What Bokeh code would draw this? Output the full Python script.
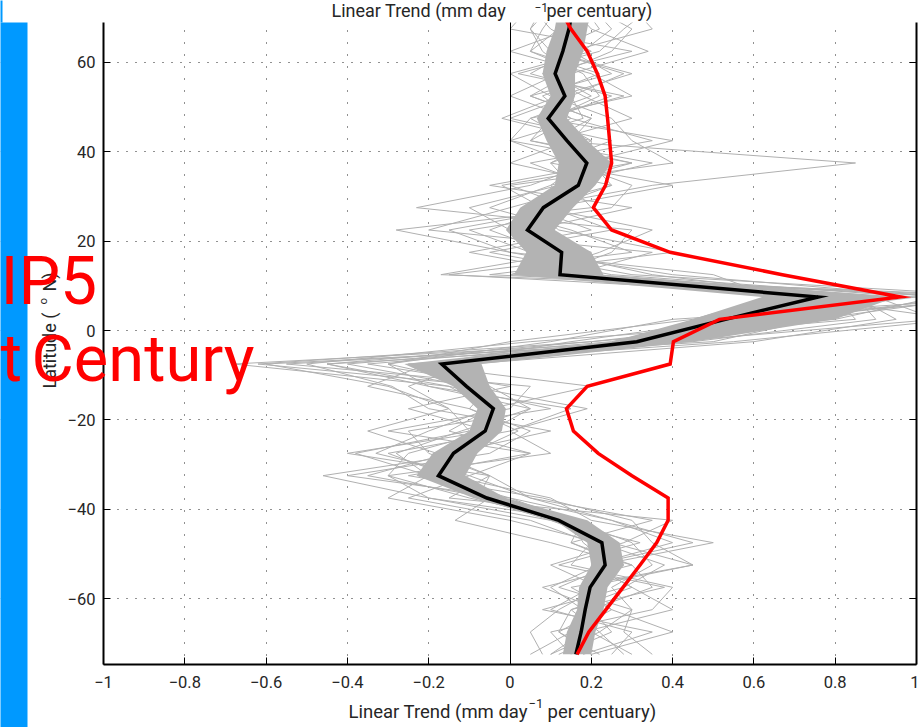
from math import pi
from bokeh.plotting import figure
from bokeh.models import Range1d, FixedTicker, LinearAxis, Label, BoxAnnotation
from bokeh.embed import file_html
from bokeh.resources import INLINE

# ---------------- data ----------------
lat = [-72.5, -67.5, -62.5, -57.5, -52.5, -47.5, -42.5, -37.5, -32.5, -27.5,
       -22.5, -17.5, -12.5, -7.5, -2.5, 2.5, 7.5, 12.5, 17.5, 22.5,
       27.5, 32.5, 37.5, 42.5, 47.5, 52.5, 57.5, 62.5, 67.5, 72.5]

obs_trend = [0.165, 0.194, 0.236, 0.278, 0.32, 0.361, 0.389, 0.389, 0.30, 0.217,
             0.156, 0.139, 0.19, 0.394, 0.402, 0.515, 0.96, 0.67, 0.394, 0.25,
             0.205, 0.235, 0.25, 0.245, 0.24, 0.234, 0.215, 0.19, 0.15, 0.12]

mmm_trend = [0.162, 0.175, 0.185, 0.197, 0.234, 0.226, 0.12, -0.057, -0.176, -0.139,
             -0.061, -0.041, -0.107, -0.168, 0.312, 0.53, 0.758, 0.123, 0.127, 0.043,
             0.082, 0.168, 0.189, 0.14, 0.094, 0.135, 0.111, 0.13, 0.145, 0.155]

band_lo = [0.13, 0.14, 0.165, 0.17, 0.20, 0.19, 0.11, -0.09, -0.23, -0.19,
           -0.10, -0.08, -0.14, -0.26, 0.25, 0.45, 0.62, 0.01, 0.04, -0.01,
           0.025, 0.11, 0.12, 0.09, 0.066, 0.10, 0.08, 0.09, 0.11, 0.12]
band_hi = [0.20, 0.21, 0.23, 0.24, 0.28, 0.27, 0.19, -0.01, -0.11, -0.08,
           -0.02, -0.01, -0.05, -0.07, 0.45, 0.80, 0.95, 0.23, 0.20, 0.11,
           0.155, 0.21, 0.25, 0.19, 0.14, 0.16, 0.16, 0.18, 0.19, 0.20]

model_a = [0.10, 0.22, 0.30, 0.25, 0.35, 0.30, 0.15, -0.10, -0.30, -0.25,
           -0.05, 0.05, -0.20, -0.45, 0.20, 0.70, 1.10, 0.05, 0.10, -0.05,
           0.10, 0.25, 0.20, 0.15, 0.05, 0.20, 0.10, 0.18, 0.25, 0.20]
model_b = [0.20, 0.12, 0.15, 0.30, 0.20, 0.40, 0.25, 0.00, -0.20, -0.38,
           -0.10, -0.15, -0.30, -0.60, 0.45, 0.90, 0.85, -0.15, 0.30, 0.15,
           -0.05, 0.10, 0.30, 0.05, 0.15, 0.08, 0.22, 0.05, 0.12, 0.10]
model_c = [0.05, 0.15, 0.25, 0.15, 0.45, 0.25, 0.10, -0.20, -0.46, -0.10,
           0.02, -0.10, -0.05, -0.30, 0.10, 0.40, 1.25, 0.30, 0.00, -0.28,
           0.20, 0.15, 0.10, 0.25, 0.00, 0.15, 0.28, 0.10, 0.05, 0.08]
model_d = [0.25, 0.30, 0.10, 0.20, 0.28, 0.15, 0.35, 0.05, -0.05, -0.20,
           -0.25, 0.10, -0.15, -0.68, 0.35, 0.60, 0.95, 0.20, -0.10, 0.20,
           0.05, 0.35, 0.85, 0.10, 0.20, 0.05, 0.15, 0.34, 0.20, 0.15]
model_e = [0.15, 0.10, 0.35, 0.40, 0.15, 0.20, 0.05, -0.25, -0.10, 0.05,
           -0.15, -0.05, 0.20, -0.25, 0.55, 1.10, 0.70, 0.10, 0.25, 0.30,
           -0.23, 0.05, 0.20, 0.20, 0.10, 0.25, 0.05, 0.15, 0.35, 0.30]
model_f = [0.30, 0.20, 0.18, 0.10, 0.22, 0.50, 0.20, 0.10, -0.15, -0.30,
           0.00, 0.19, -0.10, -0.40, 0.25, 0.50, 1.30, -0.17, 0.15, 0.10,
           0.15, 0.00, 0.40, 0.30, 0.25, 0.10, 0.00, 0.20, 0.10, 0.05]
model_g = [0.12, 0.25, 0.20, 0.35, 0.30, 0.10, -0.135, -0.05, -0.35, -0.15,
           0.10, -0.20, -0.29, -0.50, 0.05, 0.80, 1.05, 0.40, 0.05, -0.10,
           0.25, 0.30, 0.15, 0.00, 0.05, 0.30, 0.20, 0.00, 0.15, 0.25]
model_h = [0.20, 0.40, 0.25, 0.18, 0.45, 0.35, 0.30, 0.08, -0.25, 0.05,
           -0.30, 0.00, 0.05, -0.55, 0.40, 1.05, 0.90, 0.15, 0.35, -0.20,
           0.00, 0.20, 0.05, 0.35, 0.15, 0.00, 0.12, 0.25, 0.30, 0.20]
model_i = [0.08, 0.05, 0.12, 0.22, 0.10, 0.28, 0.40, -0.15, -0.05, -0.40,
           -0.05, -0.25, 0.00, -0.35, 0.30, 0.65, 1.20, 0.00, 0.20, 0.05,
           0.30, -0.05, 0.25, 0.10, 0.30, 0.18, 0.08, 0.30, 0.00, 0.05]
model_j = [0.35, 0.28, 0.30, 0.12, 0.25, 0.18, 0.15, 0.00, -0.40, -0.05,
           0.05, -0.10, -0.35, -0.20, 0.15, 0.55, 1.00, 0.25, -0.05, 0.25,
           0.10, 0.40, 0.10, 0.20, -0.02, 0.12, 0.30, 0.10, 0.22, 0.18]
model_k = [0.18, 0.35, 0.08, 0.28, 0.38, 0.22, 0.00, -0.30, -0.20, -0.28,
           -0.12, 0.05, -0.05, -0.62, 0.20, 0.85, 0.80, 0.35, 0.10, 0.00,
           -0.10, 0.12, 0.35, 0.05, 0.10, 0.22, 0.18, 0.05, 0.08, 0.12]
model_l = [0.10, 0.18, 0.40, 0.30, 0.20, 0.45, 0.25, 0.05, -0.10, -0.33,
           -0.20, -0.05, -0.15, -0.45, 0.50, 0.75, 1.15, -0.05, 0.40, 0.12,
           0.05, 0.25, 0.00, 0.15, 0.20, 0.05, 0.25, 0.15, 0.18, 0.22]
model_m = [0.22, 0.12, 0.22, 0.08, 0.30, 0.15, 0.18, -0.20, -0.30, 0.10,
           0.00, 0.15, -0.20, -0.30, 0.00, 0.45, 0.65, 0.50, 0.00, -0.15,
           0.15, 0.10, 0.18, 0.40, 0.08, 0.28, 0.02, 0.22, 0.28, 0.35]
model_n = [0.28, 0.22, 0.15, 0.38, 0.12, 0.32, 0.10, -0.08, -0.05, -0.18,
           -0.35, -0.15, -0.25, -0.10, 0.60, 0.95, 0.85, 0.05, 0.22, 0.35,
           0.08, -0.02, 0.30, 0.00, 0.18, 0.15, 0.15, 0.08, 0.05, 0.10]
models = [model_a, model_b, model_c, model_d, model_e, model_f, model_g,
          model_h, model_i, model_j, model_k, model_l, model_m, model_n]

x_ticks = [-1, -0.8, -0.6, -0.4, -0.2, 0, 0.2, 0.4, 0.6, 0.8, 1]
x_tick_labels = ["\u22121", "\u22120.8", "\u22120.6", "\u22120.4", "\u22120.2", "0",
                 "0.2", "0.4", "0.6", "0.8", "1"]
y_ticks = [-60, -40, -20, 0, 20, 40, 60]
y_tick_labels = ["\u221260", "\u221240", "\u221220", "0", "20", "40", "60"]

x_title = "Linear Trend (mm day"
x_title_sup = "\u22121"
x_title_end = "per centuary)"
y_title = "Latitude ("
y_title_sup = "o"
y_title_end = "N)"
banner_1 = "IP5"
banner_2a = "t"
banner_2b = "Century"

# ---------------- layout (picture pixels) ----------------
W, H = 919, 727
PX_M1, PX_P1 = 103, 916          # x = -1 and x = 1
PY_EQ, PX_PER_DEG = 330, 4.4667  # latitude 0 and pixels per degree
PY_TOP, PY_BOT = 22, 664         # box top / bottom


def xd(px):
    return -1 + (px - PX_M1) * 2.0 / (PX_P1 - PX_M1)


def yd(py):
    return (PY_EQ - py) / PX_PER_DEG


Y_TOP, Y_BOT = yd(PY_TOP), yd(PY_BOT)
FONT = "Roboto"
TXT = "#262626"
BASE_FIX = 0.36   # baseline correction (fraction of font size)

p = figure(width=W, height=H, output_backend="svg", toolbar_location=None,
           x_range=Range1d(xd(0), xd(W)), y_range=Range1d(yd(H), yd(0)),
           min_border=0, min_border_left=0, min_border_right=0,
           min_border_top=0, min_border_bottom=0)
p.outline_line_color = None
p.background_fill_color = "white"
p.border_fill_color = "white"

xa, ya = p.xaxis[0], p.yaxis[0]
xa.fixed_location = Y_BOT
xa.bounds = (-1, 1)
ya.fixed_location = -1
ya.bounds = (Y_BOT, Y_TOP)
for ax, ticks, labels in ((xa, x_ticks, x_tick_labels), (ya, y_ticks, y_tick_labels)):
    ax.ticker = FixedTicker(ticks=ticks)
    ax.major_label_overrides = dict(zip(ticks, labels))
    ax.axis_line_width = 2
    ax.axis_line_color = "black"
    ax.major_tick_in = 7
    ax.major_tick_out = 0
    ax.major_tick_line_color = "black"
    ax.minor_tick_line_color = None
    ax.major_label_text_font = FONT
    ax.major_label_text_font_size = "16.5px"
    ax.major_label_text_color = TXT
xa.major_label_standoff = 11
ya.major_label_standoff = 8

right_axis = LinearAxis(ticker=FixedTicker(ticks=y_ticks), fixed_location=1,
                        bounds=(Y_BOT, Y_TOP), major_label_text_color=None,
                        major_tick_in=7, major_tick_out=0, minor_tick_line_color=None,
                        axis_line_width=2, axis_line_color="black")
p.add_layout(right_axis, "right")

zero_axis = LinearAxis(fixed_location=0, bounds=(Y_BOT, Y_TOP), major_label_text_color=None,
                       major_tick_line_color=None, minor_tick_line_color=None,
                       axis_line_width=1, axis_line_color="black")
p.add_layout(zero_axis, "left")

p.xgrid.grid_line_color = "#222222"
p.xgrid.grid_line_dash = "1 11"
p.xgrid.grid_line_width = 1
p.ygrid.grid_line_color = "#222222"
p.ygrid.grid_line_dash = "1 8"
p.ygrid.grid_line_width = 1

for m in models:
    p.line(m, lat, line_color="#b0b0b0", line_width=1)

p.harea(x1=band_lo, x2=band_hi, y=lat, fill_color="#b3b3b3", fill_alpha=1.0)

p.line(mmm_trend, lat, line_color="black", line_width=3.5, line_join="miter")
p.line(obs_trend, lat, line_color="#ff0000", line_width=3.5, line_join="miter")

# white masks outside the axes box (the frame fills the whole canvas)
cl, cr, ct, cb = xd(-5), xd(W + 5), yd(-5), yd(H + 5)
p.quad(left=[cl, cl, cl, 1], right=[cr, cr, -1, cr],
       top=[ct, Y_BOT, Y_TOP, Y_TOP], bottom=[Y_TOP, cb, Y_BOT, Y_BOT],
       fill_color="white", line_color=None)

# blue strip at the left edge
p.add_layout(BoxAnnotation(left=xd(-2), right=xd(27), top=yd(PY_TOP), bottom=yd(H + 5),
                           fill_color="#0099ff", fill_alpha=1.0, line_color=None))
p.add_layout(BoxAnnotation(left=xd(-2), right=xd(2), top=yd(-5), bottom=yd(PY_TOP),
                           fill_color="#0099ff", fill_alpha=1.0, line_color=None))


def lab(text, px, py, size, color=TXT, rotated=False):
    fix = BASE_FIX * size
    if rotated:
        x, y, angle = px - fix, py, pi / 2
    else:
        x, y, angle = px, py - fix, 0.0
    p.add_layout(Label(x=xd(x), y=yd(y), text=text, text_font=FONT,
                       text_font_size=f"{size}px", text_color=color, angle=angle,
                       text_align="left", text_baseline="alphabetic"))


# axis title (below)
lab(x_title, 348, 718, 18.5)
lab(x_title_sup, 528, 708, 13)
lab(x_title_end, 547, 718, 18.5)
# title of the panel above (cut at the top in the original)
lab(x_title, 331, 16.5, 18)
lab(x_title_sup, 534, 11.5, 12)
lab(x_title_end, 546, 16.5, 18)
# y title (rotated)
lab(y_title, 55, 388, 18, rotated=True)
lab(y_title_sup, 47, 304, 11.5, rotated=True)
lab(y_title_end, 55, 291, 18, rotated=True)

# red slide texts
lab(banner_1, 0, 305, 66, color="#ff0000")
lab(banner_2a, 0, 382, 66, color="#ff0000")
lab(banner_2b, 31, 382, 65, color="#ff0000")

open("out.html", "w").write(file_html(p, INLINE))
